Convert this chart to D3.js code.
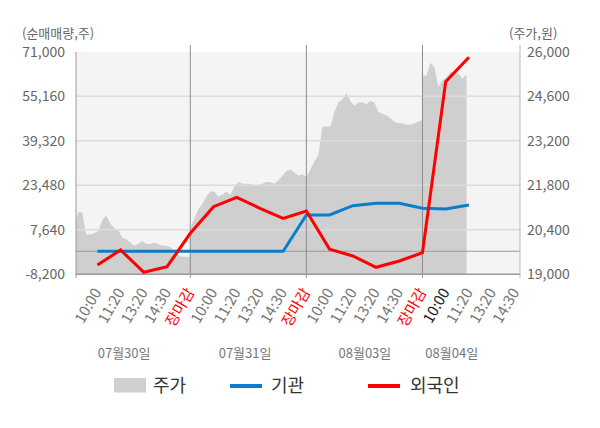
<!DOCTYPE html>
<html>
<head>
<meta charset="utf-8">
<script src="https://cdn.jsdelivr.net/npm/d3@7"></script>
<style>
  body { margin: 0; background: #fff; }
  text { font-family: "Noto Sans CJK KR", "Noto Sans", sans-serif; }
</style>
</head>
<body>
<div class="chart-div"></div>
<script>
// day labels and the x tick labels (5 slots a day, last day still open)
var days = ["07월30일", "07월31일", "08월03일", "08월04일"];
var slotLabels = ["10:00", "11:20", "13:20", "14:30", "장마감",
                  "10:00", "11:20", "13:20", "14:30", "장마감",
                  "10:00", "11:20", "13:20", "14:30", "장마감",
                  "10:00", "11:20", "13:20", "14:30"];
// net buying (shares) at each slot, slot 1..17
var foreign = [-4890, 450, -7490, -5500, 6390, 15850, 19200, 15280, 11720, 14320,
               690, -1690, -5710, -3470, -520, 60330, 69010];
var institution = [0, 0, 0, 0, 0, 0, 0, 0, 0, 12900,
                   12900, 16210, 17060, 17060, 15280, 15030, 16460];
// intraday price (won), evenly spaced over each day
var price1 = [20550, 20950, 20950, 20250, 20250, 20300, 20350, 20700, 20850, 20600,
              20450, 20400, 20150, 20100, 20000, 19900, 19950, 20050, 19950, 19950,
              20000, 19950, 19900, 19900, 19850, 19750, 19600, 19550, 19550, 19550];
var price2 = [20450, 20750, 21050, 21200, 21450, 21600, 21600, 21450, 21500, 21600,
              21500, 21750, 21900, 21850, 21850, 21850, 21800, 21800, 21850, 21900,
              21900, 21850, 21950, 22100, 22250, 22300, 22200, 22100, 22150, 22050];
var price3 = [22050, 22300, 22550, 22750, 23650, 23650, 23650, 24100, 24400, 24500,
              24700, 24450, 24300, 24400, 24400, 24350, 24450, 24400, 24100, 24050,
              24000, 23900, 23800, 23750, 23750, 23700, 23700, 23750, 23800, 23850];
var price4 = [25250, 25250, 25650, 25500, 24900, 25100, 25200, 25350, 25350, 25300,
              25150, 25300];
var leftTicks = [-8200, 7640, 23480, 39320, 55160, 71000];
var rightTicks = [19000, 20400, 21800, 23200, 24600, 26000];

var width = 600, height = 428;
var plot = {left: 76, right: 520, top: 52, bottom: 274};

var svg = d3.select(".chart-div").append("svg")
            .attr("width", width)
            .attr("height", height);

var x = d3.scaleLinear().domain([0, 19.2]).range([74.2, 520]);
var yLeft = d3.scaleLinear().domain([-8200, 71000]).range([274.3, 51.7]);
var yRight = d3.scaleLinear().domain([19000, 26000]).range([274.3, 51.7]);

//plot background
svg.append("rect")
    .attr("x", plot.left)
    .attr("y", plot.top)
    .attr("width", plot.right - plot.left)
    .attr("height", plot.bottom - plot.top)
    .attr("fill", "#f4f4f4");

svg.append("clipPath").attr("id", "clip")
    .append("rect")
    .attr("x", plot.left)
    .attr("y", plot.top)
    .attr("width", plot.right - plot.left)
    .attr("height", plot.bottom - plot.top);

//price area, each day spread over its 5 slots
var priceDays = [price1, price2, price3, price4];
var pricePts = [];
priceDays.forEach(function(arr, d) {
    arr.forEach(function(p, i) {
        pricePts.push({t: d * 5 + 5 * i / 29, p: p});
    });
});
var area = d3.area()
    .x(function(d) { return x(d.t); })
    .y0(plot.bottom)
    .y1(function(d) { return yRight(d.p); });
svg.append("path")
    .datum(pricePts)
    .attr("clip-path", "url(#clip)")
    .attr("fill", "#cfcfcf")
    .attr("d", area);

//grid lines
svg.selectAll(".grid")
    .data(leftTicks.slice(1, 5))
    .enter().append("line")
    .attr("x1", plot.left)
    .attr("x2", plot.right)
    .attr("y1", function(d) { return yLeft(d); })
    .attr("y2", function(d) { return yLeft(d); })
    .attr("stroke", "#dcdcdc")
    .attr("stroke-width", 1.5);
//zero line
svg.append("line")
    .attr("x1", plot.left)
    .attr("x2", plot.right)
    .attr("y1", yLeft(0))
    .attr("y2", yLeft(0))
    .attr("stroke", "#999")
    .attr("stroke-width", 1);

//day separators
svg.selectAll(".sep")
    .data([5, 10, 15])
    .enter().append("line")
    .attr("x1", function(d) { return x(d); })
    .attr("x2", function(d) { return x(d); })
    .attr("y1", 45)
    .attr("y2", plot.bottom)
    .attr("stroke", "#8c8c8c")
    .attr("stroke-width", 1);

//axis frame
svg.append("line")
    .attr("x1", plot.left).attr("x2", plot.left)
    .attr("y1", plot.top).attr("y2", plot.bottom + 4)
    .attr("stroke", "#999");
svg.append("line")
    .attr("x1", plot.right).attr("x2", plot.right)
    .attr("y1", 45).attr("y2", plot.bottom + 4)
    .attr("stroke", "#bbb");
svg.append("line")
    .attr("x1", plot.left).attr("x2", plot.right)
    .attr("y1", plot.bottom + 0.3).attr("y2", plot.bottom + 0.3)
    .attr("stroke", "#999")
    .attr("stroke-width", 1.5);
svg.selectAll(".xtick")
    .data([5, 10, 15])
    .enter().append("line")
    .attr("x1", function(d) { return x(d); })
    .attr("x2", function(d) { return x(d); })
    .attr("y1", plot.bottom)
    .attr("y2", plot.bottom + 4)
    .attr("stroke", "#999");

//institution and foreign lines
var line = d3.line()
    .x(function(d, i) { return x(i + 1); })
    .y(function(d) { return yLeft(d); });
svg.append("path")
    .datum(institution)
    .attr("fill", "none")
    .attr("stroke", "#0a7dcb")
    .attr("stroke-width", 3)
    .attr("d", line);
svg.append("path")
    .datum(foreign)
    .attr("fill", "none")
    .attr("stroke", "#ff0000")
    .attr("stroke-width", 3)
    .attr("d", line);

//left and right tick labels
svg.selectAll(".lt")
    .data(leftTicks)
    .enter().append("text")
    .attr("x", 65)
    .attr("y", function(d) { return yLeft(d); })
    .attr("dy", "0.36em")
    .attr("text-anchor", "end")
    .attr("font-size", "14px")
    .attr("fill", "#666")
    .text(function(d) { return d3.format(",")(d).replace("−", "-"); });
svg.selectAll(".rt")
    .data(rightTicks)
    .enter().append("text")
    .attr("x", 527)
    .attr("y", function(d) { return yRight(d); })
    .attr("dy", "0.36em")
    .attr("font-size", "14px")
    .attr("fill", "#666")
    .text(function(d) { return d3.format(",")(d); });

svg.append("text")
    .attr("x", 22)
    .attr("y", 38)
    .attr("font-size", "13px")
    .attr("fill", "#666")
    .text("(순매매량,주)");
svg.append("text")
    .attr("x", 509)
    .attr("y", 38)
    .attr("font-size", "13px")
    .attr("fill", "#666")
    .text("(주가,원)");

//x labels, rotated
svg.selectAll(".xl")
    .data(slotLabels)
    .enter().append("text")
    .attr("transform", function(d, i) {
        return "translate(" + (x(i + 1) + 4.5) + ",292) rotate(-60)";
    })
    .attr("text-anchor", "end")
    .attr("font-size", "15px")
    .attr("fill", function(d, i) {
        if (d === "장마감") return "#ff0000";
        if (i === 15) return "#222";
        return "#777";
    })
    .text(function(d) { return d; });

//day labels
var dayCenter = [2.15, 7.36, 12.52, 16.26];
svg.selectAll(".dl")
    .data(days)
    .enter().append("text")
    .attr("x", function(d, i) { return x(dayCenter[i]); })
    .attr("y", 358)
    .attr("text-anchor", "middle")
    .attr("font-size", "13px")
    .attr("fill", "#777")
    .text(function(d) { return d; });

//legend
svg.append("rect")
    .attr("x", 114)
    .attr("y", 378)
    .attr("width", 32)
    .attr("height", 14.5)
    .attr("fill", "#cfcfcf");
svg.append("text")
    .attr("x", 153).attr("y", 392)
    .attr("font-size", "18px").attr("fill", "#333")
    .text("주가");
svg.append("line")
    .attr("x1", 230).attr("x2", 262)
    .attr("y1", 386).attr("y2", 386)
    .attr("stroke", "#0a7dcb").attr("stroke-width", 4);
svg.append("text")
    .attr("x", 271).attr("y", 392)
    .attr("font-size", "18px").attr("fill", "#333")
    .text("기관");
svg.append("line")
    .attr("x1", 368).attr("x2", 400)
    .attr("y1", 386).attr("y2", 386)
    .attr("stroke", "#ff0000").attr("stroke-width", 4);
svg.append("text")
    .attr("x", 410).attr("y", 392)
    .attr("font-size", "18px").attr("fill", "#333")
    .text("외국인");
</script>
</body>
</html>
